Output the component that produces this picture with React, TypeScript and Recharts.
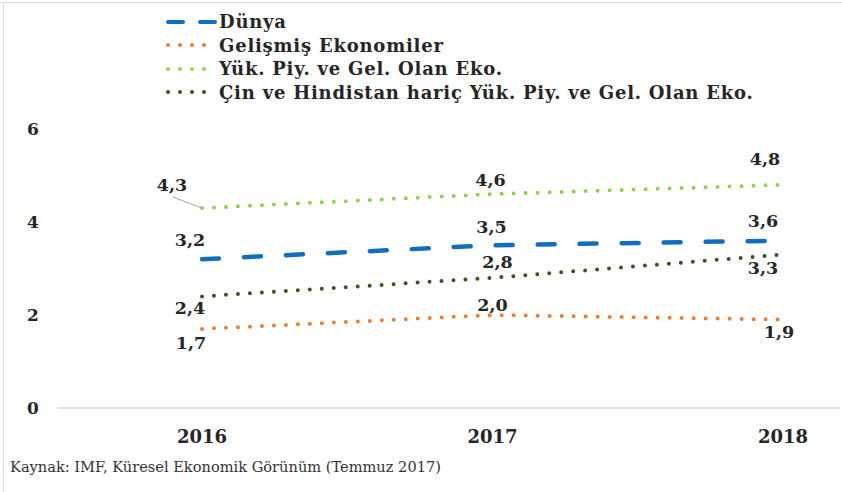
import React from "react";
import { LineChart, Line, XAxis, YAxis, LabelList } from "recharts";

const years = ["2016", "2017", "2018"];
const dunya = [3.2, 3.5, 3.6];
const gelismis = [1.7, 2.0, 1.9];
const yukPiy = [4.3, 4.6, 4.8];
const cinHaric = [2.4, 2.8, 3.3];
const yTicks = [0, 2, 4, 6];

const data = years.map((year, i) => ({
  year,
  dunya: dunya[i],
  gelismis: gelismis[i],
  yukPiy: yukPiy[i],
  cinHaric: cinHaric[i],
}));

const FONT = "'DejaVu Serif', serif";
const TEXT = "#262626";

type Series = {
  key: string;
  name: string;
  color: string;
  dash: string;
  // label offsets (dx, dy) relative to each point
  offsets: [number, number][];
  leader?: number;
};

const series: Series[] = [
  { key: "dunya", name: "Dünya", color: "#0F6EC0", dash: "17 25", offsets: [[-12, -19], [-1, -18], [-20, -20]] },
  { key: "gelismis", name: "Gelişmiş Ekonomiler", color: "#ED7D31", dash: "0 12", offsets: [[-11, 14], [0, -10], [-4, 12]] },
  { key: "yukPiy", name: "Yük. Piy. ve Gel. Olan Eko.", color: "#92D050", dash: "0 12", offsets: [[-30, -23], [-2, -14], [-18, -26]], leader: 0 },
  { key: "cinHaric", name: "Çin ve Hindistan hariç Yük. Piy. ve Gel. Olan Eko.", color: "#375623", dash: "0 12", offsets: [[-12, 12], [5, -16], [-20, 13]] },
];

const fmt = (v: number) => v.toFixed(1).replace(".", ",");

function makeLabel(s: Series) {
  return (props: any) => {
    const { x, y, value, index } = props;
    const [dx, dy] = s.offsets[index] || [0, -12];
    return (
      <g>
        {s.leader === index && (
          <line x1={x + dx + 1} y1={y + dy + 12} x2={x} y2={y} stroke="#A6A6A6" strokeWidth={1} />
        )}
        <text
          x={x + dx}
          y={y + dy}
          textAnchor="middle"
          dominantBaseline="central"
          fontFamily={FONT}
          fontWeight="bold"
          fontSize={17.5}
          fill={TEXT}
        >
          {fmt(value)}
        </text>
      </g>
    );
  };
}

const YTick = (props: any) => {
  const { y, payload } = props;
  return (
    <text x={33} y={y} textAnchor="middle" dominantBaseline="central" fontFamily={FONT} fontWeight="bold" fontSize={17} fill={TEXT}>
      {payload.value}
    </text>
  );
};

const XTick = (props: any) => {
  const { x, y, payload } = props;
  return (
    <text x={x} y={y + 20} textAnchor="middle" dominantBaseline="central" fontFamily={FONT} fontWeight="bold" fontSize={18} fill={TEXT}>
      {payload.value}
    </text>
  );
};

function LegendIcon({ s }: { s: Series }) {
  return (
    <svg width={52} height={12} style={{ display: "block", flex: "none" }}>
      {s.key === "dunya" ? (
        <>
          <line x1={2} y1={6} x2={17} y2={6} stroke={s.color} strokeWidth={4} strokeLinecap="round" />
          <line x1={34} y1={6} x2={49} y2={6} stroke={s.color} strokeWidth={4} strokeLinecap="round" />
        </>
      ) : (
        <line x1={2} y1={6} x2={50} y2={6} stroke={s.color} strokeWidth={4} strokeLinecap="round" strokeDasharray="0 12" />
      )}
    </svg>
  );
}

export default function App() {
  return (
    <div style={{ position: "absolute", left: 0, top: 0, width: 842, height: 492, background: "#fff", overflow: "hidden" }}>
      <div style={{ position: "absolute", left: 0, top: 2, width: 842, height: 1, background: "#D9D9D9" }} />
      <div style={{ position: "absolute", left: 3, top: 2, width: 1, height: 490, background: "#D9D9D9" }} />

      <div style={{ position: "absolute", left: 166, top: 10 }}>
        {series.map((s) => (
          <div key={s.key} style={{ display: "flex", alignItems: "center", height: 23.5 }}>
            <LegendIcon s={s} />
            <span
              style={{
                fontFamily: FONT,
                fontWeight: "bold",
                fontSize: 18,
                letterSpacing: 0.78,
                color: TEXT,
                whiteSpace: "nowrap",
                marginLeft: 1,
              }}
            >
              {s.name}
            </span>
          </div>
        ))}
      </div>

      <div style={{ position: "absolute", left: 0, top: 0 }}>
        <LineChart width={842} height={492} data={data} margin={{ top: 129, right: 2, bottom: 54, left: 0 }}>
          <XAxis
            dataKey="year"
            padding={{ left: 144, right: 57 }}
            axisLine={{ stroke: "#D9D9D9", strokeWidth: 1.5 }}
            tickLine={false}
            tick={<XTick />}
            height={30}
          />
          <YAxis
            domain={[0, 6]}
            ticks={yTicks}
            axisLine={false}
            tickLine={false}
            tick={<YTick />}
            width={58}
          />
          {series.map((s) => (
            <Line
              key={s.key}
              type="linear"
              dataKey={s.key}
              name={s.name}
              stroke={s.color}
              strokeWidth={s.key === "dunya" ? 4.5 : 4}
              strokeDasharray={s.dash}
              strokeLinecap="round"
              dot={false}
              activeDot={false}
              isAnimationActive={false}
            >
              <LabelList dataKey={s.key} content={makeLabel(s)} />
            </Line>
          ))}
        </LineChart>
      </div>

      <div style={{ position: "absolute", left: 10, top: 458, fontFamily: FONT, fontSize: 14.6, color: "#333", whiteSpace: "nowrap" }}>
        Kaynak: IMF, Küresel Ekonomik Görünüm (Temmuz 2017)
      </div>
    </div>
  );
}
